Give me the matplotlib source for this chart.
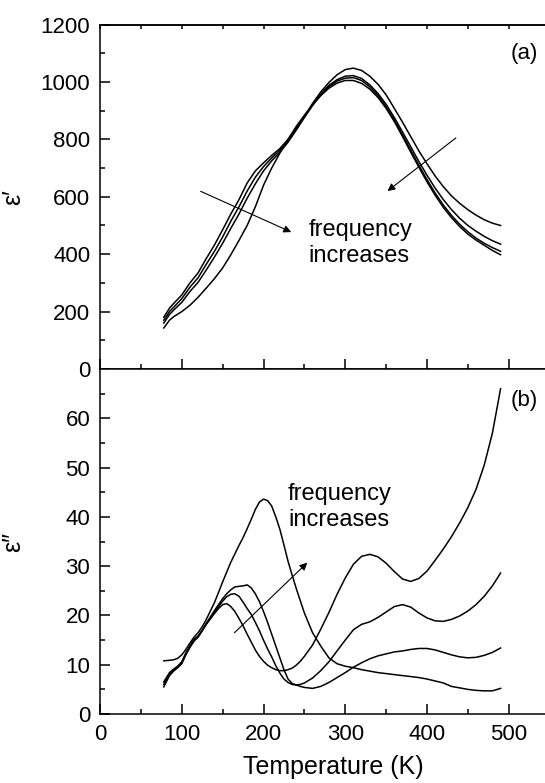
import matplotlib
matplotlib.use('Agg')
import matplotlib.pyplot as plt

plt.rcParams['font.family'] = ['Liberation Sans', 'DejaVu Sans']
plt.rcParams['font.size'] = 16

# (a) real part, four frequencies (lowest first)
temp_a = [78, 85, 90, 100, 110, 120, 130, 140, 150, 160, 170, 180, 190, 200, 210,
          220, 230, 240, 250, 260, 270, 280, 290, 300, 310, 320, 330, 340, 350, 360,
          370, 380, 390, 400, 410, 420, 430, 440, 450, 460, 470, 480, 490]
eps1_f1 = [180, 212, 228, 258, 300, 335, 385, 432, 485, 540, 590, 648, 690, 718, 744,
           768, 800, 838, 880, 925, 965, 998, 1025, 1043, 1048, 1040, 1020, 992, 955, 908,
           860, 810, 760, 715, 672, 635, 603, 577, 555, 536, 520, 508, 500]
eps1_f2 = [170, 200, 215, 245, 285, 318, 365, 410, 460, 515, 565, 620, 668, 705, 735,
           762, 795, 835, 878, 920, 958, 988, 1008, 1020, 1022, 1012, 990, 960, 922, 876,
           826, 775, 723, 675, 630, 590, 555, 525, 500, 480, 462, 447, 435]
eps1_f3 = [160, 190, 205, 232, 270, 302, 345, 390, 438, 490, 540, 595, 645, 690, 725,
           755, 790, 832, 876, 918, 955, 983, 1003, 1013, 1015, 1005, 983, 953, 914, 867,
           816, 763, 710, 660, 613, 571, 535, 504, 478, 456, 438, 423, 410]
eps1_f4 = [143, 170, 182, 200, 222, 250, 282, 315, 352, 398, 448, 500, 565, 640, 700,
           752, 800, 845, 884, 920, 952, 978, 996, 1005, 1005, 995, 975, 946, 908, 862,
           810, 756, 703, 652, 605, 563, 527, 496, 470, 449, 431, 413, 398]

# (b) imaginary part
temp_b = [78, 85, 90, 95, 100, 105, 110, 115, 120, 125,
          130, 135, 140, 145, 150, 155, 160, 165, 170, 175, 180, 185, 190, 195, 200,
          205, 210, 215, 220, 225, 230, 235, 240, 245, 250,
          260, 270, 280, 290, 300, 310, 320, 330, 340, 350, 360, 370, 380, 390, 400,
          410, 420, 430, 440, 450, 460, 470, 480, 490]
eps2_f1 = [6.5, 8.4, 9.1, 9.7, 10.6, 12.4, 13.8, 15.2, 15.8, 17.0,
           18.3, 19.3, 20.4, 21.4, 22.2, 22.4, 21.8, 20.8, 19.4, 17.9, 16.2, 14.6, 13.0, 11.7, 10.7,
           9.9, 9.4, 9.0, 8.8, 8.8, 9.0, 9.3, 9.9, 10.7, 11.7,
           14.0, 17.2, 20.6, 24.3, 27.6, 30.4, 32.0, 32.4, 31.9, 30.6, 28.9, 27.4, 26.9, 27.5, 29.0,
           31.2, 33.5, 36.0, 38.8, 41.9, 45.6, 50.5, 57.0, 66.0]
eps2_f2 = [6.0, 8.1, 8.9, 9.6, 10.4, 12.2, 13.7, 15.0, 15.7, 16.9,
           18.2, 19.4, 20.6, 21.8, 22.9, 23.8, 24.3, 24.4, 23.9, 22.7, 21.4, 20.2, 18.6, 16.9, 15.0,
           13.2, 11.6, 9.8, 8.3, 7.1, 6.4, 6.0, 5.9, 6.0, 6.3,
           7.3, 8.8, 10.6, 12.8, 15.0, 17.1, 18.2, 18.7, 19.6, 20.7, 21.8, 22.2, 21.7, 20.5, 19.5,
           18.9, 18.8, 19.2, 19.9, 20.9, 22.2, 23.9, 26.0, 28.6]
eps2_f3 = [5.5, 7.8, 8.7, 9.4, 10.2, 12.0, 13.5, 14.8, 15.6, 16.9,
           18.4, 19.7, 21.0, 22.2, 23.4, 24.4, 25.2, 25.8, 25.9, 26.0, 26.2, 25.6, 24.4, 22.8, 20.8,
           18.6, 16.2, 13.8, 11.4, 9.0, 7.1, 6.2, 5.9, 5.6, 5.4,
           5.2, 5.6, 6.4, 7.4, 8.4, 9.5, 10.4, 11.2, 11.8, 12.2, 12.6, 12.8, 13.1, 13.3, 13.3,
           13.0, 12.5, 12.0, 11.6, 11.4, 11.5, 11.9, 12.5, 13.4]
eps2_f4 = [10.8, 10.9, 11.0, 11.3, 12.0, 13.1, 14.4, 15.6, 16.5, 17.7,
           19.2, 20.9, 22.6, 24.7, 26.8, 28.8, 30.8, 32.5, 34.2, 35.8, 37.6, 39.5, 41.5, 43.0, 43.6,
           43.3, 42.2, 40.0, 37.5, 34.3, 31.0, 28.2, 25.5, 23.0, 20.5,
           16.5, 13.8, 11.4, 10.2, 9.7, 9.4, 9.0, 8.7, 8.4, 8.2, 8.0, 7.8, 7.6, 7.4, 7.1,
           6.7, 6.3, 5.6, 5.3, 5.0, 4.8, 4.7, 4.7, 5.2]

fig = plt.figure(figsize=(5.45, 7.83), dpi=100)
ax1 = fig.add_axes([0.1835, 0.5287, 0.855, 0.440])
ax2 = fig.add_axes([0.1835, 0.0881, 0.855, 0.4406])

for ys in (eps1_f1, eps1_f2, eps1_f3, eps1_f4):
    ax1.plot(temp_a, ys, color='black', lw=1.1)
for ys in (eps2_f1, eps2_f2, eps2_f3, eps2_f4):
    ax2.plot(temp_b, ys, color='black', lw=1.1)

ax1.set_xlim(0, 570)
ax1.set_ylim(0, 1200)
ax1.set_xticks(range(0, 600, 100))
ax1.set_xticks(range(50, 600, 100), minor=True)
ax1.set_yticks(range(0, 1300, 200))
ax1.set_yticks(range(100, 1200, 200), minor=True)
ax1.tick_params(which='both', direction='in', right=False, top=False, labelbottom=False,
                width=1.1)
ax1.tick_params(which='major', length=7, pad=7)
ax1.tick_params(which='minor', length=3.5)
ax1.set_ylabel('ε′', fontsize=18)
ax1.yaxis.set_label_coords(-0.16, 0.5)

# short ticks along the top edge of (a)
top = ax1.secondary_xaxis('top')
top.set_xticks(range(0, 600, 50))
top.tick_params(direction='in', length=3, width=1.1, labeltop=False)

ax2.set_xlim(0, 570)
ax2.set_ylim(0, 70)
ax2.set_xticks(range(0, 600, 100))
ax2.set_xticks(range(50, 600, 100), minor=True)
ax2.set_yticks(range(0, 70, 10))
ax2.set_yticks(range(5, 70, 10), minor=True)
ax2.tick_params(which='both', direction='in', right=False, top=False, width=1.1)
ax2.tick_params(which='major', length=7, pad=7)
ax2.tick_params(which='minor', length=3.5)
ax2.set_ylabel('ε″', fontsize=18)
ax2.yaxis.set_label_coords(-0.16, 0.5)
ax2.set_xlabel('Temperature (K)', fontsize=18)
ax2.xaxis.set_label_coords(0.5, -0.12)

for ax in (ax1, ax2, top):
    for s in ax.spines.values():
        s.set_linewidth(1.1)

arrow = dict(arrowstyle='-|>', color='black', lw=0.8, mutation_scale=11)
ax1.annotate('', xy=(237, 473), xytext=(120, 623), arrowprops=arrow)
ax1.annotate('', xy=(349, 614), xytext=(438, 811), arrowprops=arrow)
ax1.text(255, 440, 'frequency\nincreases', ha='left', va='center', fontsize=17,
         linespacing=1.25)
ax1.text(502, 1100, '(a)', ha='left', va='center')

ax2.annotate('', xy=(256, 31.1), xytext=(162, 16.1), arrowprops=arrow)
ax2.text(230, 42, 'frequency\nincreases', ha='left', va='center', fontsize=17,
         linespacing=1.25)
ax2.text(502, 63.7, '(b)', ha='left', va='center')

fig.savefig('out.png', dpi=100)
